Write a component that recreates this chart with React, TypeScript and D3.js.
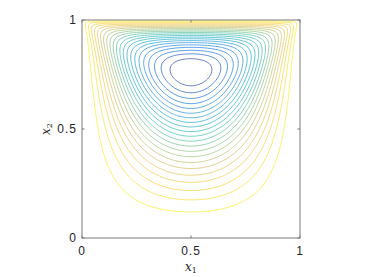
import * as d3 from "d3";
import { useMemo } from "react";

// axis ticks
const tickValues = [0, 0.5, 1];
const tickLabels = ["0", "0.5", "1"];

// stream function levels drawn
const psiLevels = [
  -0.0043, -0.0087, -0.0130, -0.0174, -0.0217, -0.0261, -0.0304, -0.0348, -0.0391, -0.0435, -0.0478,
  -0.0522, -0.0565, -0.0609, -0.0652, -0.0696, -0.0739, -0.0783, -0.0826, -0.0870, -0.0913, -0.0957,
];
const colorRange = [-0.1, 0];

// lid driven cavity (Stokes) settings
const gridCells = 80;
const lidSpeed = 1;

// parula colour map stops
const parula = ["#352a87", "#0363e1", "#1485d4", "#06a7c6", "#38b99e", "#92bf73", "#d9ba56", "#fcce2e", "#f9fb0e"];

const W = 370, H = 277;
const margin = { left: 82, right: 70, top: 20, bottom: 39 };

// stream function / vorticity iteration, Thom wall vorticity
function solveCavity(n: number, iters: number) {
  const m = n + 1;
  const h = 1 / n;
  const h2 = h * h;
  const psi = new Float64Array(m * m);
  const w = new Float64Array(m * m);
  const om = 1.8, rb = 0.3;
  for (let it = 0; it < iters; it++) {
    for (let j = 1; j < n; j++) {
      for (let i = 1; i < n; i++) {
        const k = i + j * m;
        const g = (psi[k - 1] + psi[k + 1] + psi[k - m] + psi[k + m] + h2 * w[k]) / 4;
        psi[k] += om * (g - psi[k]);
      }
    }
    for (let i = 1; i < n; i++) {
      const b = i, t = i + n * m;
      w[b] += rb * (-2 * psi[i + m] / h2 - w[b]);
      w[t] += rb * (-2 * (psi[i + (n - 1) * m] + h * lidSpeed) / h2 - w[t]);
    }
    for (let j = 1; j < n; j++) {
      const l = j * m, r = n + j * m;
      w[l] += rb * (-2 * psi[1 + j * m] / h2 - w[l]);
      w[r] += rb * (-2 * psi[n - 1 + j * m] / h2 - w[r]);
    }
    for (let j = 1; j < n; j++) {
      for (let i = 1; i < n; i++) {
        const k = i + j * m;
        const g = (w[k - 1] + w[k + 1] + w[k - m] + w[k + m]) / 4;
        w[k] += om * (g - w[k]);
      }
    }
  }
  return psi;
}

const App = () => {
  const x = d3.scaleLinear().domain([0, 1]).range([margin.left, W - margin.right]);
  const y = d3.scaleLinear().domain([0, 1]).range([H - margin.bottom, margin.top]);

  const paths = useMemo(() => {
    const n = gridCells;
    const m = n + 1;
    const psi = solveCavity(n, 4000);
    // negate so each level is a closed blob around the vortex
    const vals = Array.from(psi, (p) => -p);
    const color = d3.scaleSequential(d3.piecewise(d3.interpolateRgb, parula)).domain(colorRange);
    const proj = d3.geoTransform({
      point(px: number, py: number) {
        (this as any).stream.point(x((px - 0.5) / n), y((py - 0.5) / n));
      },
    });
    const gp = d3.geoPath(proj);
    const cs = d3.contours().size([m, m]).thresholds(psiLevels.map((l) => -l))(vals);
    return cs.map((c) => ({ d: gp(c as any) || "", stroke: color(-c.value) }));
  }, []);

  const axisColor = "#7a7a7a";
  const x0 = x(0), x1 = x(1), y0 = y(0), y1 = y(1);
  const tl = 2.5;

  return (
    <svg width={W} height={H} style={{ position: "absolute", left: 0, top: 0, background: "#fff" }}>
      <g fill="none" strokeWidth={0.8} strokeOpacity={0.8}>
        {paths.map((p, i) => (
          <path key={i} d={p.d} stroke={p.stroke} />
        ))}
      </g>
      <rect x={x0} y={y1} width={x1 - x0} height={y0 - y1} fill="none" stroke={axisColor} strokeWidth={1} />
      {tickValues.map((t) => (
        <g key={t} stroke={axisColor} strokeWidth={1}>
          <line x1={x(t)} x2={x(t)} y1={y0} y2={y0 - tl} />
          <line x1={x(t)} x2={x(t)} y1={y1} y2={y1 + tl} />
          <line x1={x0} x2={x0 + tl} y1={y(t)} y2={y(t)} />
          <line x1={x1} x2={x1 - tl} y1={y(t)} y2={y(t)} />
        </g>
      ))}
      <g fontFamily="Liberation Sans, Arial, sans-serif" fontSize={12} fill="#262626" letterSpacing={1}>
        {tickValues.map((t, i) => (
          <text key={"x" + t} x={x(t)} y={y0 + 17} textAnchor="middle">{tickLabels[i]}</text>
        ))}
        {tickValues.map((t, i) => (
          <text key={"y" + t} x={x0 - 5} y={y(t) + 4} textAnchor="end">{tickLabels[i]}</text>
        ))}
      </g>
      <g fontFamily="DejaVu Serif, serif" fontStyle="italic" fontSize={12} fill="#262626">
        <text x={(x0 + x1) / 2} y={271} textAnchor="middle">
          x<tspan fontStyle="normal" fontSize={8} dy={2}>1</tspan>
        </text>
        <text transform={`translate(50,${(y0 + y1) / 2}) rotate(-90)`} textAnchor="middle">
          x<tspan fontStyle="normal" fontSize={8} dy={2}>2</tspan>
        </text>
      </g>
    </svg>
  );
};

export default App;
